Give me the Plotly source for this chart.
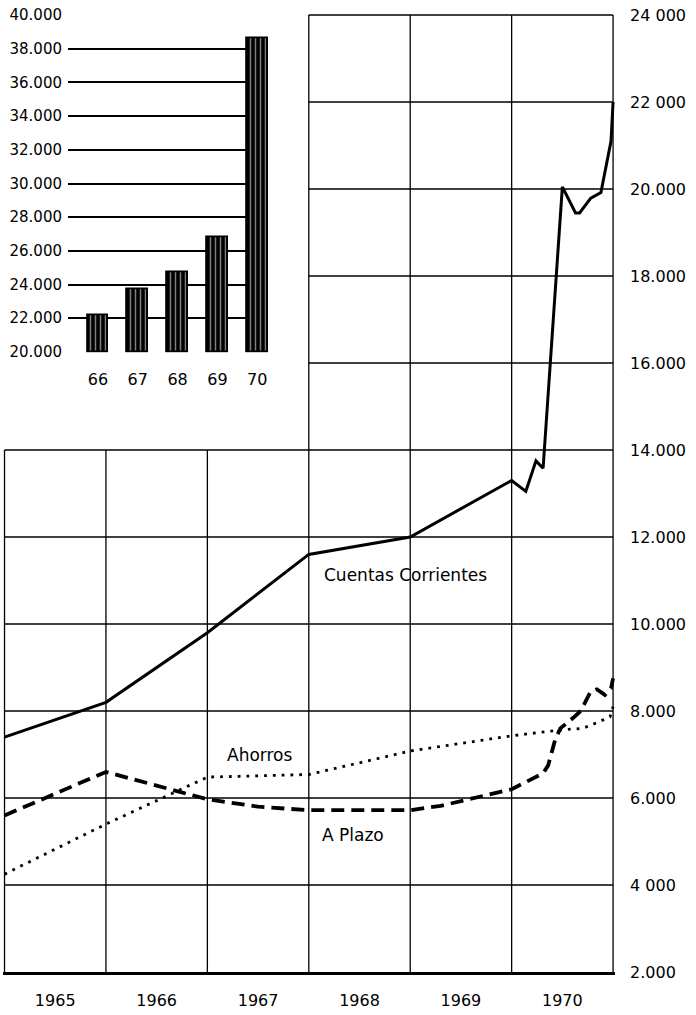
import plotly.graph_objects as go

# ---------------- data ----------------
CC_T = [1965.0, 1966.0, 1967.0, 1968.0, 1969.0, 1970.0, 1970.14, 1970.24, 1970.31,
        1970.50, 1970.63, 1970.67, 1970.78, 1970.88, 1970.98, 1971.0]
CC_V = [7400, 8200, 9800, 11600, 12000, 13300, 13050, 13750, 13580,
        20050, 19450, 19450, 19790, 19920, 21100, 22000]

AP_T = [1965.0, 1966.0, 1967.0, 1967.5, 1968.0, 1969.0, 1969.3, 1969.56, 1970.0,
        1970.31, 1970.36, 1970.43, 1970.48, 1970.61, 1970.68, 1970.78, 1970.84,
        1970.92, 1970.98, 1971.0]
AP_V = [5600, 6600, 5970, 5800, 5720, 5720, 5820, 5960, 6200,
        6570, 6750, 7350, 7600, 7850, 8000, 8450, 8500,
        8370, 8520, 8750]

AH_T = [1965.0, 1966.0, 1967.0, 1968.0, 1969.0, 1970.0, 1970.5, 1970.7, 1970.85, 1970.97, 1971.0]
AH_V = [4250, 5400, 6480, 6540, 7080, 7430, 7570, 7600, 7740, 7870, 8100]

YEAR_BOUNDS = [1965, 1966, 1967, 1968, 1969, 1970, 1971]
YEAR_TICKS = [1965.5, 1966.5, 1967.5, 1968.5, 1969.5, 1970.5]
YEAR_LABELS = ["1965", "1966", "1967", "1968", "1969", "1970"]

Y_TICKS = [2000, 4000, 6000, 8000, 10000, 12000, 14000, 16000, 18000, 20000, 22000, 24000]
Y_LABELS = ["2.000", "4 000", "6.000", "8.000", "10.000", "12.000", "14.000",
            "16.000", "18.000", "20.000", "22 000", "24 000"]

BAR_LABELS = ["66", "67", "68", "69", "70"]
BAR_VALUES = [22200, 23700, 24750, 26800, 38600]
BAR_Y_TICKS = [20000, 22000, 24000, 26000, 28000, 30000, 32000, 34000, 36000, 38000, 40000]
BAR_Y_LABELS = ["20.000", "22.000", "24.000", "26.000", "28.000", "30.000",
                "32.000", "34.000", "36.000", "38.000", "40.000"]

LEFT_TOP = 14000   # the left part of the grid stops here
SPLIT_YEAR = 1968  # the grid goes up to the top from this year on

FONT = "DejaVu Sans"

fig = go.Figure()

fig.add_trace(go.Scatter(x=CC_T, y=CC_V, mode="lines", name="Cuentas Corrientes",
                         line=dict(color="black", width=3), showlegend=False))
fig.add_trace(go.Scatter(x=AP_T, y=AP_V, mode="lines", name="A Plazo",
                         line=dict(color="black", width=3.8, dash="13px,7px"), showlegend=False))
fig.add_trace(go.Scatter(x=AH_T, y=AH_V, mode="lines", name="Ahorros",
                         line=dict(color="black", width=2.8, dash="2.8px,6px"), showlegend=False))

# inset bar chart
fig.add_trace(go.Bar(x=list(range(len(BAR_LABELS))), y=[v - 20000 for v in BAR_VALUES], base=20000,
                     width=0.52, xaxis="x2", yaxis="y2", showlegend=False,
                     marker=dict(color="black",
                                 line=dict(color="black", width=1.8),
                                 pattern=dict(shape="|", fgcolor="white", size=5, solidity=0.3))))

# grid of the main chart (irregular outline)
shapes = []
for yv in Y_TICKS[1:]:
    x0 = YEAR_BOUNDS[0] if yv <= LEFT_TOP else SPLIT_YEAR
    shapes.append(dict(type="line", xref="x", yref="y", x0=x0, x1=YEAR_BOUNDS[-1], y0=yv, y1=yv,
                       line=dict(color="black", width=1.3), layer="below"))
for xv in YEAR_BOUNDS:
    y1 = LEFT_TOP if xv < SPLIT_YEAR else Y_TICKS[-1]
    shapes.append(dict(type="line", xref="x", yref="y", x0=xv, x1=xv, y0=Y_TICKS[0], y1=y1,
                       line=dict(color="black", width=1.3), layer="below"))

annotations = [
    dict(x=1968.95, y=11120, xref="x", yref="y", text="Cuentas Corrientes", showarrow=False,
         font=dict(family=FONT, size=17, color="black")),
    dict(x=1967.52, y=6990, xref="x", yref="y", text="Ahorros", showarrow=False,
         font=dict(family=FONT, size=17, color="black")),
    dict(x=1968.44, y=5150, xref="x", yref="y", text="A Plazo", showarrow=False,
         font=dict(family=FONT, size=17, color="black")),
]

fig.update_layout(
    width=696, height=1015,
    margin=dict(l=3, r=81, t=13, b=43),
    paper_bgcolor="white", plot_bgcolor="white",
    font=dict(family=FONT, color="black"),
    shapes=shapes, annotations=annotations,
    bargap=0,
    xaxis=dict(range=[1964.985, 1971.019], tickvals=YEAR_TICKS, ticktext=YEAR_LABELS,
               showgrid=False, zeroline=False, showline=True, linecolor="black", linewidth=2.5,
               ticks="", ticklabelstandoff=12, tickfont=dict(family=FONT, size=16)),
    yaxis=dict(range=[2000, 24046], side="right", tickvals=Y_TICKS, ticktext=Y_LABELS,
               showgrid=False, zeroline=False, showline=False, ticks="",
               ticklabelstandoff=14, tickfont=dict(family=FONT, size=16)),
    xaxis2=dict(domain=[0.1062, 0.4330], anchor="y2", range=[-0.75, 4.27],
                tickvals=list(range(len(BAR_LABELS))), ticktext=BAR_LABELS,
                showgrid=False, zeroline=False, showline=False, ticks="",
                ticklabelstandoff=15, tickfont=dict(family=FONT, size=16)),
    yaxis2=dict(domain=[0.6457, 0.9987], anchor="x2", range=[19950, 40050],
                tickvals=BAR_Y_TICKS, ticktext=BAR_Y_LABELS,
                showgrid=True, gridcolor="black", gridwidth=1.5, zeroline=False,
                showline=False, ticks="", ticklabelstandoff=5,
                tickfont=dict(family=FONT, size=15)),
)

fig.write_html("out.html", config={"displayModeBar": False},
               post_script="document.body.style.margin='0';")
